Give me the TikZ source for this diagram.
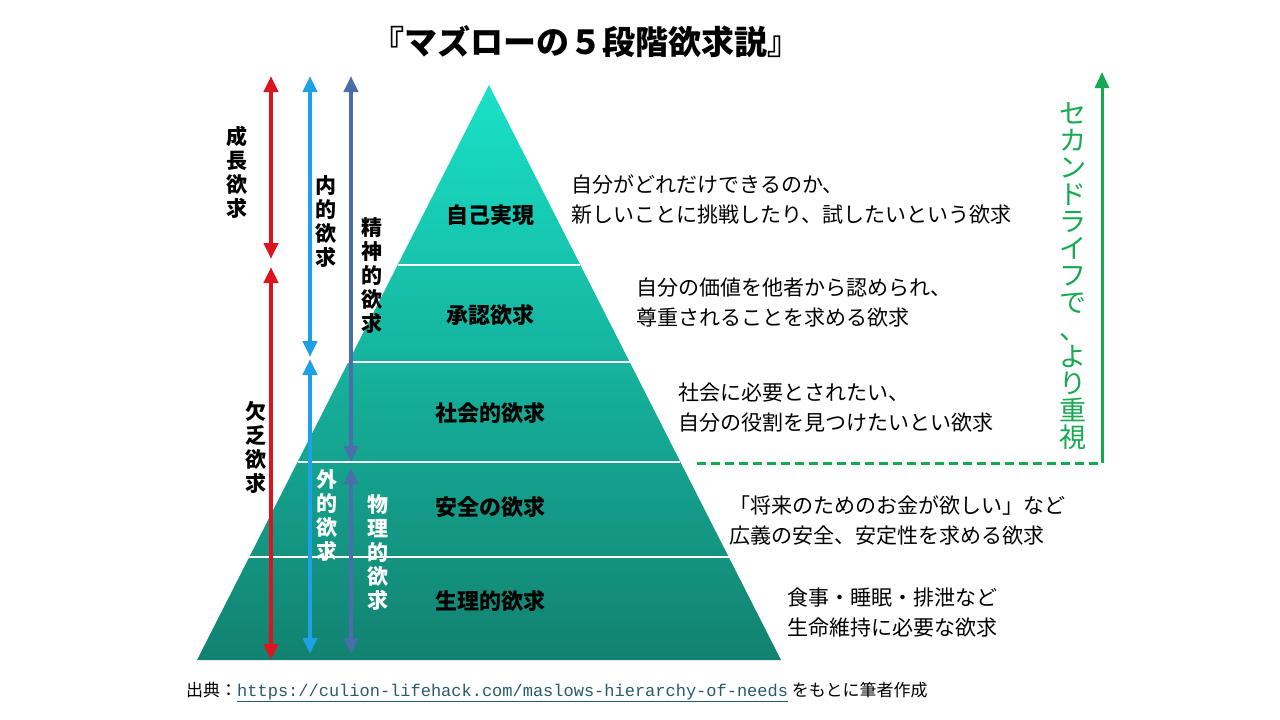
\documentclass[tikz,border=0pt]{standalone}
\usepackage{fontspec}
\setmainfont{Noto Sans CJK JP}
\setmonofont{Liberation Mono}
\usetikzlibrary{arrows.meta,positioning}
\definecolor{pyrtop}{RGB}{25,225,200}
\definecolor{pyrbot}{RGB}{18,130,112}
\definecolor{arrred}{RGB}{220,20,30}
\definecolor{arrblue}{RGB}{30,160,230}
\definecolor{arrgrey}{RGB}{75,110,170}
\definecolor{arrgreen}{RGB}{20,170,80}
\definecolor{linkcol}{RGB}{40,90,110}
\tikzset{
  needarr/.style={line width=4pt,{Triangle[width=14pt,length=16pt]}-{Triangle[width=14pt,length=16pt]}},
  levtxt/.style={font=\fontsize{22}{24}\selectfont\bfseries},
  desctxt/.style={font=\fontsize{21}{30}\selectfont,align=left,anchor=west},
  vtxt/.style={font=\fontsize{21}{24}\selectfont\bfseries,align=center,inner sep=0pt},
}
\begin{document}
\begin{tikzpicture}[x=1pt,y=-1pt]
\useasboundingbox (0,0) rectangle (1280,720);
% pyramid
\shade[top color=pyrtop,bottom color=pyrbot] (489,85) -- (781,660) -- (197,660) -- cycle;
\foreach \yy in {265,362,462,557}{
  \pgfmathsetmacro{\dx}{(\yy-85)/575*292}
  \draw[white,line width=1.5pt] (489-\dx,\yy) -- (489+\dx,\yy);
}
% level names
\node[levtxt] (self) at (490,215) {自己実現};
\node[levtxt] (esteem) at (490,315) {承認欲求};
\node[levtxt] (social) at (490,413) {社会的欲求};
\node[levtxt] (safety) at (490,507) {安全の欲求};
\node[levtxt] (phys) at (490,601) {生理的欲求};
% descriptions
\node[desctxt] (dself) at (568,199) {自分がどれだけできるのか、\\新しいことに挑戦したり、試したいという欲求};
\node[desctxt] (desteem) at (633,303) {自分の価値を他者から認められ、\\尊重されることを求める欲求};
\node[desctxt] (dsocial) at (675,408) {社会に必要とされたい、\\自分の役割を見つけたいとい欲求};
\node[desctxt] (dsafety) at (726,521) {「将来のためのお金が欲しい」など\\広義の安全、安定性を求める欲求};
\node[desctxt] (dphys) at (784,613) {食事・睡眠・排泄など\\生命維持に必要な欲求};
% title
\node[font=\fontsize{33}{35}\selectfont\bfseries] (title) at (586,42) {『マズローの５段階欲求説』};
% side arrows
\coordinate (r1) at (271,76); \coordinate (r2) at (271,259);
\coordinate (r3) at (271,267); \coordinate (r4) at (271,660);
\draw[needarr,arrred] (r1) -- (r2);
\draw[needarr,arrred] (r3) -- (r4);
\coordinate (b1) at (310,76); \coordinate (b2) at (310,357);
\coordinate (b3) at (310,359); \coordinate (b4) at (310,654);
\draw[needarr,arrblue] (b1) -- (b2);
\draw[needarr,arrblue] (b3) -- (b4);
\coordinate (g1) at (351,76); \coordinate (g2) at (351,462);
\coordinate (g3) at (351,468); \coordinate (g4) at (351,654);
\draw[needarr,arrgrey] (g1) -- (g2);
\draw[needarr,arrgrey] (g3) -- (g4);
\node[vtxt] (grow) at (237,172) {成\\長\\欲\\求};
\node[vtxt] (lack) at (256,447) {欠\\乏\\欲\\求};
\node[vtxt] (inner) at (326,222) {内\\的\\欲\\求};
\node[vtxt,white] (outer) at (327,516) {外\\的\\欲\\求};
\node[vtxt] (mental) at (372,276) {精\\神\\的\\欲\\求};
\node[vtxt,white] (physical) at (378,553) {物\\理\\的\\欲\\求};
% second life
\coordinate (s1) at (697,463); \coordinate (s2) at (1102,463); \coordinate (s3) at (1102,72);
\draw[arrgreen,line width=3pt,dash pattern=on 9pt off 5pt] (s1) -- (s2);
\draw[arrgreen,line width=3pt,-{Triangle[width=14pt,length=16pt]}] (s2) -- (s3);
\node[font=\fontsize{27}{27}\selectfont,text=arrgreen,align=center,inner sep=0pt] (second) at (1073,276) {セ\\カ\\ン\\ド\\ラ\\イ\\フ\\で\\、\\よ\\り\\重\\視};
% source
\node[anchor=west,font=\fontsize{17}{19}\selectfont,inner sep=0pt] (src) at (186,692) {出典：\texttt{\textcolor{linkcol}{\underline{https://culion-lifehack.com/maslows-hierarchy-of-needs}}}\ をもとに筆者作成};
\end{tikzpicture}
\end{document}
